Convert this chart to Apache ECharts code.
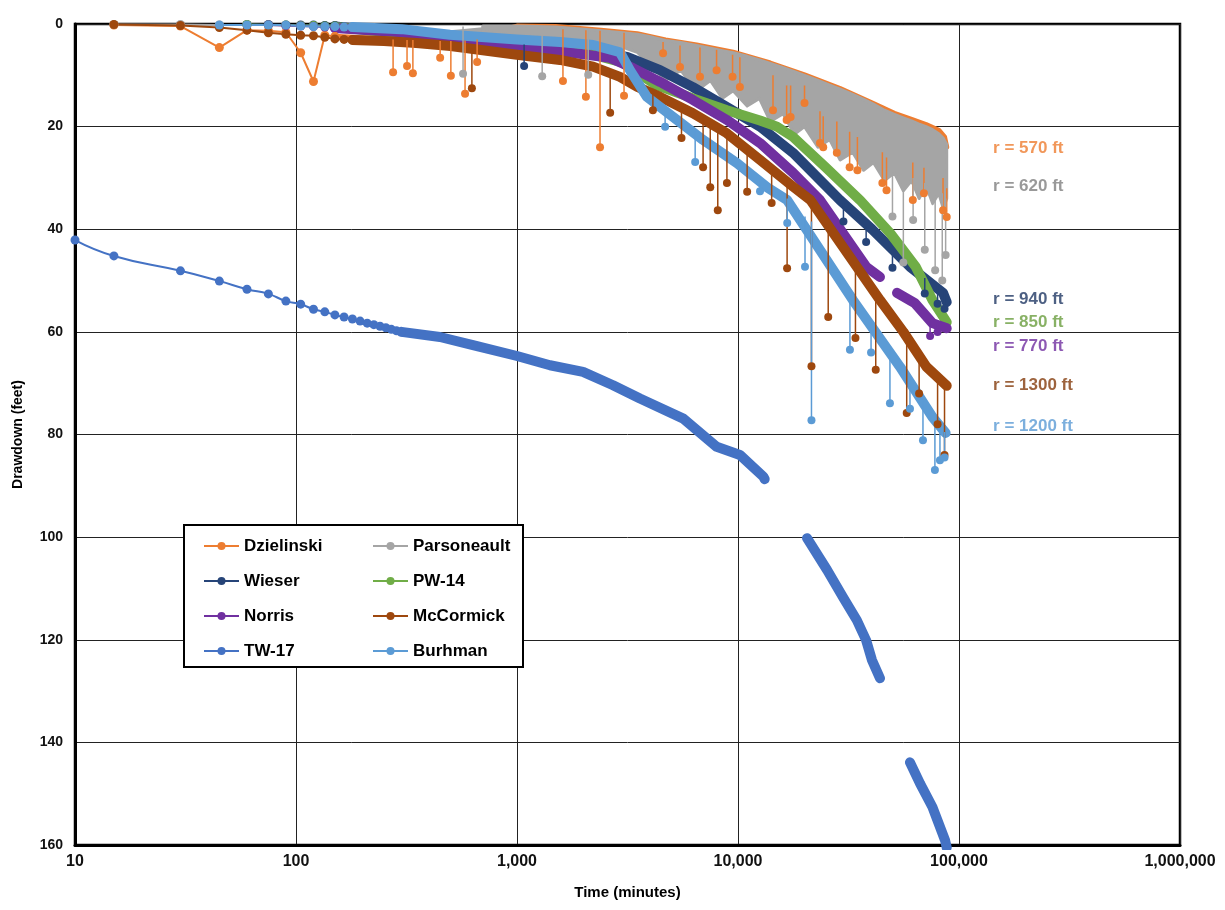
<!DOCTYPE html>
<html>
<head>
<meta charset="utf-8">
<script src="https://cdn.jsdelivr.net/npm/echarts@6/dist/echarts.min.js"></script>
<style>
html,body{margin:0;padding:0;background:#fff}
#chart{width:1225px;height:910px}
</style>
</head>
<body>
<div id="chart"></div>
<script>
// ---- Drawdown observations: [time (min), drawdown (ft)] ----
// "head" = early 15-minute readings, "band" = dense later record,
// spikes = [time, band level, spike depth]
const dzHead = [[15,0.2],[30,0.4],[45,4.6],[60,1.2],[75,1.3],[90,1.6],[105,5.6],[120,11.2],[135,2.2],[150,2.4]];
const dzBand = [[150,2.4],[250,2.9],[400,3.3],[600,3.0],[800,1.5],[1000,0.4],[1500,0.5],[2400,1.2],[3500,1.9],[4700,3.1],[6500,4.1],[9500,5.5],[14000,7.6],[20000,9.9],[29000,12.6],[41000,15.5],[51000,17.4],[61000,18.6],[71000,19.6],[81000,20.7],[86000,22.0],[88000,24.0]];
const dzSpikes = [[275,3.0,9.4],[318,3.1,8.2],[338,3.1,9.6],[449,3.3,6.6],[502,3.3,10.1],[582,3.2,13.6],[660,3.0,7.4],[1614,1.0,11.1],[2050,1.2,14.2],[2375,1.3,24.0],[3050,1.7,14.0],
  [4580,3.5,5.7],[5466,4.2,8.4],[6730,4.6,10.3],[8000,5.0,9.0],[9450,6.0,10.3],[10200,6.5,12.3],[14400,10,16.8],[16600,12,18.7],[17300,12,18.1],[20000,12,15.4],[23500,17,23.2],[24300,18,24.0],[28000,19,25.1],[32000,21,27.9],[34700,22,28.5],[45000,25,31.0],[47000,26,32.4],[61800,27,34.3],[69400,28,33.0],[84700,30,36.3],[88000,32,37.6]];

const paHead = [[15,0.1],[30,0.1],[45,0.2],[60,0.2],[75,0.2],[90,0.3],[105,0.3],[120,0.3],[135,0.3],[150,0.3]];
const paBand = [[150,0.8],[300,1.3],[500,1.8],[700,1.2]];
const paTime   = [700,1000,1500,2000,2400,3000,3500,4000,4700,5500,6500,7500,8500,9500,11000,12500,14000,16000,18000,20000,23000,26000,29000,33000,37000,41000,46000,51000,56000,61000,66000,71000,76000,81000,85000,88000];
const paTop    = [0.4,0.4,0.6,1.0,1.3,1.7,2.0,2.5,3.2,3.6,4.2,4.7,5.2,5.6,6.3,7.0,7.7,8.5,9.3,10.0,11.0,11.9,12.7,13.7,14.7,15.6,16.8,17.6,18.3,18.9,19.5,20.0,20.6,21.4,22.3,23.5];
const paBottom = [1.5,2.2,2.8,3.5,4.0,4.5,5.5,8.0,11.0,9.0,13.0,11.0,14.5,13.0,16.0,14.5,19.0,17.5,21.5,20.0,24.0,22.5,26.5,25.0,28.5,27.0,30.5,29.0,32.5,30.5,34.0,31.5,35.0,33.0,36.0,34.0];
const paSpikes = [[570,0.5,9.7],[1300,0.6,10.2],[2100,1.1,9.9],[50000,29,37.5],[56000,32,46.5],[62000,30,38.2],[70000,31,44.0],[78000,34,48.0],[84000,33,50.0],[87000,34,45.0]];

const wiHead = [[60,0.1],[75,0.1],[90,0.2],[105,0.2],[120,0.2],[135,0.3],[150,0.3]];
const wiBand = [[150,0.5],[500,2.5],[1000,4.0],[2000,5.0],[3146,6.4],[4440,9.0],[6250,12.3],[8910,16.2],[12580,20.0],[17740,25.1],[28900,34.3],[40400,40.0],[60000,47.3],[84700,52.4],[88000,54.2]];
const wiSpikes = [[1077,4.0,8.2],[30000,35,38.5],[38000,39.5,42.5],[50000,44,47.5],[70000,49.5,52.5],[80000,51,54.5],[86000,52,55.5]];

const pwHead = [[60,0.1],[75,0.2],[90,0.2],[105,0.3],[120,0.3],[135,0.4],[150,0.4]];
const pwBand = [[150,0.6],[500,2.8],[1000,4.0],[2000,5.5],[3000,7.5],[4270,11.9],[6250,14.5],[8910,16.8],[12580,18.8],[15000,20.0],[17740,22.0],[25000,28.0],[35630,34.3],[48900,40.8],[63700,47.3],[75800,53.8],[88000,58.1]];

const noHead = [[75,0.2],[90,0.3],[105,0.4],[120,0.5],[135,0.6],[150,0.7]];
const noBand = [[150,0.8],[300,1.6],[497,3.1],[1000,4.3],[1700,5.5],[2640,6.6],[3350,8.6],[4440,11.3],[6250,14.8],[8910,18.7],[12580,23.2],[17740,29.0],[23490,34.3],[29870,40.8],[38000,47.3],[43900,49.3],[47000,null],[52420,52.4],[63100,54.4],[75800,58.3],[88000,59.3]];
const noSpikes = [[74000,58,60.8],[80000,58.6,60.0]];

const mcHead = [[15,0.1],[30,0.3],[45,0.7],[60,1.2],[75,1.7],[90,2.0],[105,2.2],[120,2.3],[135,2.6],[150,2.9],[165,3.0],[180,3.1]];
const mcBand = [[180,3.1],[250,3.3],[350,3.7],[500,4.3],[700,5.1],[1000,6.0],[1565,7.0],[2210,8.3],[2924,10.3],[3490,12.2],[4440,14.2],[6250,17.4],[8910,21.3],[12580,26.5],[17740,31.7],[21250,34.3],[43900,53.8],[56000,60.0],[71200,66.8],[88000,70.5]];
const mcSpikes = [[625,4.8,12.5],[2640,9.0,17.3],[4120,13.5,16.8],[5550,16.5,22.2],[6950,18.0,27.9],[7490,19.3,31.8],[8100,20.3,36.3],[8910,21.3,31.0],[11000,24.5,32.7],[14200,28.0,34.9],[16680,30.5,47.6],[21500,35,66.7],[25600,40,57.1],[34000,47,61.2],[42000,52,67.4],[58000,62,75.8],[66000,65,72.0],[80000,69,78.0],[86000,71,84.0]];

const twHead = [[10,42.1],[15,45.2],[30,48.1],[45,50.1],[60,51.7],[75,52.6],[90,54.0],[105,54.6],[120,55.6],[135,56.1],[150,56.7],[165,57.1],[180,57.5],[195,57.9],[210,58.3],[225,58.6],[240,58.9],[255,59.2],[270,59.5],[285,59.8],[300,60.0]];
const twBand = [[300,60.0],[448,61.0],[632,62.6],[1000,64.7],[1410,66.5],[1990,67.8],[2720,70.4],[3600,73.0],[5656,76.9],[8010,82.4],[10210,84.0],[13020,88.2],[13200,88.7],[16000,null],[20530,100.2],[25300,106.4],[29870,111.7],[34500,116.2],[38000,120.1],[40400,124.0],[43900,127.5],[50000,null],[60000,143.9],[66600,148.0],[75800,152.6],[86500,159.1],[88000,160.5]];

const buHead = [[45,0.2],[60,0.2],[75,0.2],[90,0.2],[105,0.4],[120,0.5],[135,0.5],[150,0.5],[165,0.6],[180,0.6]];
const buBand = [[180,0.6],[300,1.0],[497,2.1],[1000,3.0],[1565,3.5],[2210,4.1],[2924,5.5],[3243,9.0],[3870,14.2],[5300,18.7],[6950,22.6],[9890,27.1],[13520,31.8],[16680,34.3],[33100,53.8],[54070,66.8],[75800,76.6],[87000,79.7]];
const buSpikes = [[4680,16.5,20.0],[6400,21.0,26.9],[12580,30.6,32.6],[16700,34.0,38.8],[20100,37.5,47.3],[21500,38.5,77.2],[32100,52.8,63.5],[40000,58.5,64.0],[48700,63.5,73.9],[60000,70,75.0],[68700,73.5,81.1],[77800,77,86.9],[82000,78.5,85.0],[86000,79.5,84.5]];

// Radius annotations at the right of the curves: [time, drawdown, text]
const radiusNotes = [[142600,24.2,'r = 570 ft'],[142600,31.6,'r = 620 ft'],[142600,53.6,'r = 940 ft'],[142600,58.1,'r = 850 ft'],[142600,62.8,'r = 770 ft'],[142600,70.4,'r = 1300 ft'],[142600,78.4,'r = 1200 ft']];
const radiusColors = ['#ED7D31','#7F7F7F','#203864','#6A9E3F','#7030A0','#843C0C','#5B9BD5'];

const legendLeft  = ['Dzielinski','Wieser','Norris','TW-17'];
const legendRight = ['Parsoneault','PW-14','McCormick','Burhman'];

const C = {
  'Dzielinski':'#ED7D31','Parsoneault':'#A5A5A5','Wieser':'#264478','PW-14':'#70AD47',
  'Norris':'#7030A0','McCormick':'#9E480E','TW-17':'#4472C4','Burhman':'#5B9BD5'
};
const FONT = '"Liberation Sans", Arial, sans-serif';

function head(name, data, smooth) {
  return { type:'line', name, data, symbol:'circle', symbolSize:9, showSymbol:true,
    smooth: smooth ? 0.5 : false,
    lineStyle:{ color:C[name], width:2 }, itemStyle:{ color:C[name] } };
}
function band(name, data, width, z) {
  return { type:'line', name, data, symbol:'none', smooth:false, z: z || 2,
    lineStyle:{ color:C[name], width: width || 10, cap:'round', join:'round' }, itemStyle:{ color:C[name] } };
}
function spikes(name, list) {
  const data = [];
  list.forEach(s => { data.push([s[0], s[1]], [s[0], s[2]], [s[0], null]); });
  return { type:'line', name, data, symbol:'circle', showSymbol:true,
    symbolSize: (v, p) => (p.dataIndex % 3 === 1 ? 8 : 0),
    lineStyle:{ color:C[name], width:1.5 }, itemStyle:{ color:C[name] } };
}

// Scattered Parsoneault record: filled envelope between its upper and lower readings
const parsEnvelope = {
  type:'custom', name:'Parsoneault', silent:true, z:2,
  data: paTime.map((t, i) => [t, paTop[i]]),
  encode:{ x:0, y:1 },
  renderItem: (params, api) => {
    if (params.dataIndex !== 0) return null;
    const upper = paTime.map((t, i) => api.coord([t, paTop[i]]));
    const lower = paTime.map((t, i) => api.coord([t, paBottom[i]])).reverse();
    return { type:'polygon', shape:{ points: upper.concat(lower) },
      style:{ fill:C['Parsoneault'], stroke:C['Parsoneault'], lineWidth:3, lineJoin:'round' } };
  }
};

const series = [
  head('Dzielinski', dzHead),
  band('Dzielinski', dzBand, 5, 1),
  head('Parsoneault', paHead),
  band('Parsoneault', paBand, 6, 1),
  parsEnvelope,
  spikes('Dzielinski', dzSpikes),
  spikes('Parsoneault', paSpikes),
  head('Wieser', wiHead), band('Wieser', wiBand), spikes('Wieser', wiSpikes),
  head('PW-14', pwHead), band('PW-14', pwBand),
  head('Norris', noHead), band('Norris', noBand), spikes('Norris', noSpikes),
  head('McCormick', mcHead), band('McCormick', mcBand), spikes('McCormick', mcSpikes),
  head('TW-17', twHead, true), band('TW-17', twBand, 10),
  head('Burhman', buHead), band('Burhman', buBand), spikes('Burhman', buSpikes),
  { type:'scatter', name:'notes', symbolSize:0, silent:true, z:5,
    data: radiusNotes.map((n, i) => ({ value:[n[0], n[1]], name:n[2], label:{ color:radiusColors[i] } })),
    label:{ show:true, position:'right', distance:0, formatter: p => p.name,
      fontFamily:FONT, fontSize:17, fontWeight:'bold' } }
];

const legendText = { fontFamily:FONT, fontSize:17, fontWeight:'bold', color:'#000', lineHeight:18 };

const option = {
  animation:false,
  backgroundColor:'#fff',
  grid:{ left:75, right:45, top:24, bottom:65, show:true, borderColor:'#000', borderWidth:2.5 },
  xAxis:{
    type:'log', logBase:10, min:10, max:1000000,
    axisLine:{ show:true, onZero:false, lineStyle:{ color:'#000', width:3 } },
    axisTick:{ show:false },
    axisLabel:{ fontFamily:FONT, fontSize:16, fontWeight:'bold', color:'#111', margin:9,
      formatter: v => Math.round(v).toLocaleString('en-US') },
    splitLine:{ show:true, lineStyle:{ color:'#222', width:1 } },
    name:'Time (minutes)', nameLocation:'middle', nameGap:40,
    nameTextStyle:{ fontFamily:FONT, fontSize:15, fontWeight:'bold', color:'#000' }
  },
  yAxis:{
    type:'value', inverse:true, min:0, max:160, interval:20,
    axisLine:{ show:true, onZero:false, lineStyle:{ color:'#000', width:3 } },
    axisTick:{ show:false },
    axisLabel:{ fontFamily:FONT, fontSize:14, fontWeight:'bold', color:'#111', margin:12 },
    splitLine:{ show:true, lineStyle:{ color:'#222', width:1 } },
    name:'Drawdown (feet)', nameLocation:'middle', nameGap:50, nameRotate:90,
    nameTextStyle:{ fontFamily:FONT, fontSize:14, fontWeight:'bold', color:'#000' }
  },
  legend:[
    { left:198, top:532, orient:'vertical', data:legendLeft, itemWidth:35, itemHeight:10, itemGap:17,
      selectedMode:false, textStyle:legendText },
    { left:367, top:532, orient:'vertical', data:legendRight, itemWidth:35, itemHeight:10, itemGap:17,
      selectedMode:false, textStyle:legendText }
  ],
  graphic:[
    { type:'rect', left:183, top:524, z:3, shape:{ width:339, height:142 },
      style:{ fill:'#fff', stroke:'#000', lineWidth:2 } }
  ],
  series
};

const chart = echarts.init(document.getElementById('chart'), null, { renderer:'canvas' });
chart.setOption(option);
</script>
</body>
</html>
